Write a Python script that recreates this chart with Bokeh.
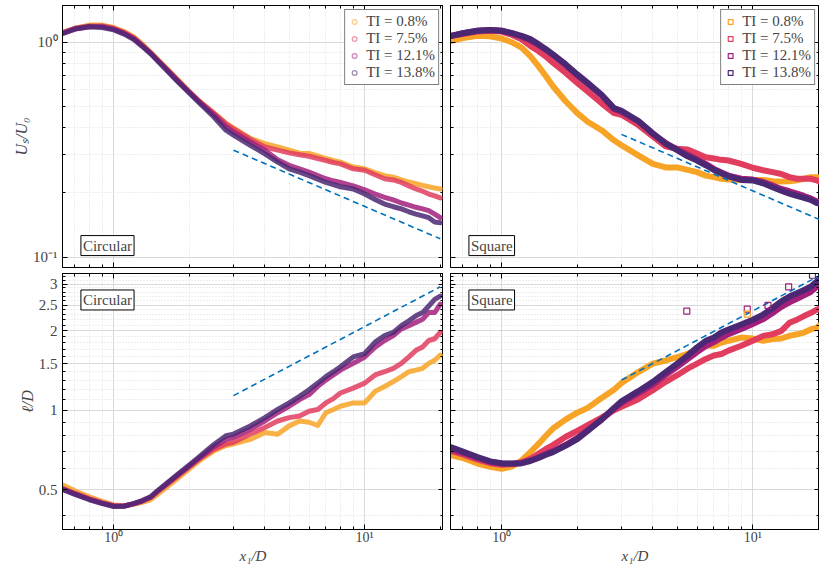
from bokeh.plotting import figure
from bokeh.layouts import gridplot
from bokeh.models import (FixedTicker, CustomJSTickFormatter, LogAxis, Label,
                          Legend, LegendItem, Range1d)
from bokeh.embed import file_html
from bokeh.resources import INLINE

# ---------------- data ----------------
x1_D = [0.63, 0.7, 0.8, 0.9, 1.0, 1.1, 1.2, 1.3, 1.4, 1.5, 1.6, 1.8, 2.0, 2.2, 2.5,
        2.8, 3.0, 3.5, 4.0, 4.5, 5.0, 5.5, 6.0, 6.5, 7.0, 7.5, 8.0, 9.0, 10, 11, 12,
        13, 14, 15, 16, 17, 18, 19, 20]

ti_labels = ["TI = 0.8%", "TI = 7.5%", "TI = 12.1%", "TI = 13.8%"]

# Circular cylinder, U_s/U_0
circ_U_08 = [1.11, 1.16, 1.20, 1.20, 1.17, 1.12, 1.06, 0.98, 0.90, 0.83, 0.77, 0.67, 0.59,
             0.53, 0.47, 0.42, 0.40, 0.357, 0.338, 0.326, 0.315, 0.305, 0.304, 0.296, 0.288,
             0.282, 0.277, 0.263, 0.258, 0.248, 0.240, 0.236, 0.229, 0.224, 0.220, 0.216,
             0.213, 0.210, 0.208]
circ_U_75 = [1.11, 1.16, 1.19, 1.19, 1.16, 1.11, 1.05, 0.97, 0.895, 0.825, 0.765, 0.665,
             0.587, 0.53, 0.468, 0.418, 0.395, 0.354, 0.326, 0.315, 0.306, 0.300, 0.295,
             0.288, 0.282, 0.276, 0.272, 0.258, 0.254, 0.242, 0.232, 0.229, 0.223, 0.215,
             0.208, 0.203, 0.197, 0.193, 0.189]
circ_U_121 = [1.10, 1.15, 1.18, 1.18, 1.15, 1.10, 1.04, 0.96, 0.89, 0.82, 0.76, 0.66, 0.585,
              0.525, 0.462, 0.405, 0.383, 0.344, 0.315, 0.284, 0.268, 0.258, 0.249, 0.240,
              0.232, 0.227, 0.223, 0.215, 0.206, 0.197, 0.190, 0.185, 0.179, 0.175, 0.171,
              0.168, 0.165, 0.159, 0.153]
circ_U_138 = [1.10, 1.15, 1.18, 1.17, 1.14, 1.09, 1.03, 0.955, 0.885, 0.815, 0.755, 0.655,
              0.58, 0.52, 0.45, 0.39, 0.370, 0.332, 0.303, 0.277, 0.258, 0.249, 0.240, 0.231,
              0.223, 0.218, 0.213, 0.208, 0.197, 0.186, 0.177, 0.172, 0.168, 0.163, 0.159,
              0.156, 0.153, 0.146, 0.145]

# Square cylinder, U_s/U_0
sq_U_08 = [1.014, 1.044, 1.07, 1.064, 1.04, 0.997, 0.944, 0.862, 0.774, 0.695, 0.624, 0.53,
           0.468, 0.427, 0.39, 0.35, 0.332, 0.298, 0.272, 0.262, 0.262, 0.255, 0.249, 0.240,
           0.236, 0.232, 0.230, 0.229, 0.229, 0.229, 0.226, 0.225, 0.226, 0.228, 0.232,
           0.236, 0.236, 0.236, 0.235]
sq_U_75 = [1.07, 1.09, 1.12, 1.13, 1.12, 1.08, 1.03, 0.96, 0.91, 0.857, 0.803, 0.72, 0.647,
           0.59, 0.52, 0.468, 0.46, 0.412, 0.365, 0.328, 0.320, 0.317, 0.304, 0.292, 0.288,
           0.284, 0.282, 0.272, 0.261, 0.254, 0.249, 0.244, 0.236, 0.232, 0.232, 0.232,
           0.228, 0.221, 0.219]
sq_U_121 = [1.07, 1.10, 1.13, 1.14, 1.13, 1.10, 1.06, 1.02, 0.97, 0.92, 0.87, 0.78, 0.70,
            0.64, 0.565, 0.49, 0.475, 0.43, 0.375, 0.34, 0.318, 0.30, 0.285, 0.272, 0.258,
            0.248, 0.240, 0.232, 0.230, 0.224, 0.216, 0.208, 0.203, 0.198, 0.193, 0.188,
            0.182, 0.179, 0.178]
sq_U_138 = [1.07, 1.10, 1.13, 1.14, 1.13, 1.10, 1.07, 1.033, 0.979, 0.927, 0.878, 0.788,
            0.708, 0.647, 0.57, 0.494, 0.48, 0.43, 0.377, 0.338, 0.315, 0.295, 0.282, 0.268,
            0.255, 0.246, 0.238, 0.229, 0.228, 0.221, 0.212, 0.204, 0.198, 0.193, 0.189,
            0.185, 0.179, 0.177, 0.176]

# Circular cylinder, l/D
circ_L_08 = [0.52, 0.495, 0.47, 0.452, 0.438, 0.435, 0.44, 0.448, 0.458, 0.482, 0.505, 0.552,
             0.60, 0.645, 0.70, 0.735, 0.745, 0.775, 0.823, 0.81, 0.872, 0.91, 0.90, 0.875,
             0.978, 1.006, 1.035, 1.065, 1.065, 1.178, 1.229, 1.283, 1.34, 1.398, 1.418,
             1.44, 1.503, 1.545, 1.614]
circ_L_75 = [0.505, 0.485, 0.463, 0.447, 0.435, 0.434, 0.442, 0.452, 0.466, 0.492, 0.516,
             0.563, 0.61, 0.655, 0.71, 0.745, 0.756, 0.812, 0.86, 0.91, 0.937, 0.95, 0.99,
             1.006, 1.065, 1.106, 1.161, 1.212, 1.266, 1.359, 1.398, 1.44, 1.503, 1.59, 1.684,
             1.733, 1.835, 1.863, 1.97]
circ_L_121 = [0.50, 0.482, 0.46, 0.445, 0.434, 0.434, 0.443, 0.454, 0.468, 0.495, 0.52, 0.568,
              0.615, 0.66, 0.725, 0.775, 0.789, 0.847, 0.91, 0.978, 1.035, 1.096, 1.145, 1.23,
              1.30, 1.359, 1.418, 1.503, 1.59, 1.73, 1.835, 1.917, 2.03, 2.089, 2.149, 2.21,
              2.34, 2.34, 2.52]
circ_L_138 = [0.50, 0.48, 0.458, 0.443, 0.432, 0.433, 0.443, 0.455, 0.47, 0.497, 0.522, 0.572,
              0.62, 0.668, 0.74, 0.80, 0.812, 0.872, 0.937, 1.006, 1.065, 1.128, 1.195, 1.266,
              1.34, 1.398, 1.46, 1.59, 1.638, 1.81, 1.917, 1.97, 2.089, 2.18, 2.275, 2.34,
              2.48, 2.625, 2.70]

# Square cylinder, l/D
sq_L_08 = [0.674, 0.659, 0.628, 0.61, 0.60, 0.613, 0.645, 0.694, 0.745, 0.80, 0.852, 0.923,
           0.978, 1.02, 1.112, 1.195, 1.266, 1.394, 1.50, 1.542, 1.586, 1.632, 1.70, 1.753,
           1.753, 1.804, 1.83, 1.883, 1.867, 1.83, 1.86, 1.867, 1.91, 1.937, 1.966, 2.02,
           2.05, 2.14, 2.18]
sq_L_75 = [0.70, 0.68, 0.65, 0.63, 0.622, 0.625, 0.635, 0.655, 0.684, 0.713, 0.738, 0.793,
           0.835, 0.877, 0.937, 1.0, 1.03, 1.10, 1.19, 1.28, 1.356, 1.435, 1.50, 1.563, 1.61,
           1.632, 1.68, 1.753, 1.83, 1.91, 1.937, 1.995, 2.14, 2.2, 2.27, 2.33, 2.40, 2.436,
           2.48]
sq_L_121 = [0.71, 0.69, 0.66, 0.637, 0.628, 0.627, 0.63, 0.645, 0.662, 0.682, 0.70, 0.74,
            0.785, 0.84, 0.92, 1.01, 1.065, 1.16, 1.25, 1.36, 1.46, 1.56, 1.66, 1.75, 1.81,
            1.88, 1.94, 2.03, 2.12, 2.21, 2.33, 2.46, 2.56, 2.64, 2.72, 2.80, 2.93, 3.05, 3.14]
sq_L_138 = [0.724, 0.697, 0.664, 0.64, 0.63, 0.628, 0.63, 0.642, 0.659, 0.678, 0.694, 0.734,
            0.777, 0.835, 0.923, 1.02, 1.08, 1.18, 1.28, 1.394, 1.50, 1.61, 1.728, 1.83, 1.883,
            1.966, 2.02, 2.11, 2.2, 2.30, 2.436, 2.58, 2.69, 2.77, 2.85, 2.93, 3.07, 3.20, 3.28]

# isolated square-cylinder l/D points
sq_L_out_121_x = [5.46, 9.51, 11.5, 13.9]
sq_L_out_121_y = [2.37, 2.41, 2.49, 2.93]
sq_L_out_08_x = [9.51]
sq_L_out_08_y = [2.31]
sq_L_out_138_x = [17.3]
sq_L_out_138_y = [3.24]

# power-law guide lines (slope -1/2 and +1/2)
fit_x = [3.0, 20.0]
circ_U_fit = [0.315, 0.122]
sq_U_fit = [0.373, 0.144]
circ_L_fit = [1.135, 2.93]
sq_L_fit = [1.30, 3.36]

x_major = [1, 10]
x_minor = [0.7, 0.8, 0.9, 2, 3, 4, 5, 6, 7, 8, 9, 20]
U_major = [0.1, 1]
U_minor = [0.2, 0.3, 0.4, 0.5, 0.6, 0.7, 0.8, 0.9]
L_major = [0.5, 1, 1.5, 2, 2.5, 3]
L_minor = [0.4, 0.6, 0.7, 0.8, 0.9, 1.1, 1.2, 1.3, 1.4, 1.6, 1.7, 1.8, 1.9, 2.1, 2.2,
           2.3, 2.4, 2.6, 2.7, 2.8, 2.9, 3.1, 3.2]

# ---------------- styling ----------------
COLORS = ["#F7A325", "#E13D5F", "#A2207C", "#4B2873"]
BLUE = "#0072BD"
FONT = "Liberation Serif"

pow_fmt = CustomJSTickFormatter(code="""
const m = {"0.1": "10\u207b\u00b9", "1": "10\u2070", "10": "10\u00b9"};
const k = String(tick);
return (k in m) ? m[k] : "";
""")
num_fmt = CustomJSTickFormatter(code="return String(Math.round(tick*10)/10);")


def style_axis(ax, show_labels, vertical=False):
    ax.axis_line_color = "black"
    ax.major_tick_in = 5
    ax.major_tick_out = 0
    ax.minor_tick_in = 3
    ax.minor_tick_out = 0
    ax.major_tick_line_color = "black"
    ax.minor_tick_line_color = "black"
    ax.major_label_text_font = FONT
    ax.axis_label_text_font = FONT
    ax.axis_label_text_font_size = "15px"
    ax.axis_label_text_font_style = "italic"
    ax.axis_label_standoff = 0
    if show_labels:
        ax.major_label_text_font_size = "14px" if not vertical else "15px"
        ax.major_label_standoff = 0 if not vertical else 5
    else:
        ax.major_label_text_font_size = "0px"
        ax.major_label_text_color = None
        ax.major_label_standoff = 0


def make_fig(x_end, y_rng, y_major, y_minor, y_fmt, show_x, show_y, x_label, y_label,
             w, h, borders):
    p = figure(x_axis_type="log", y_axis_type="log",
               x_range=Range1d(0.625, x_end), y_range=Range1d(*y_rng),
               width=w, height=h,
               output_backend="svg", toolbar_location=None,
               min_border_left=borders[0], min_border_right=borders[1],
               min_border_top=borders[2], min_border_bottom=borders[3])
    p.outline_line_color = "black"
    p.outline_line_width = 1
    xt = FixedTicker(ticks=x_major, minor_ticks=x_minor)
    yt = FixedTicker(ticks=y_major, minor_ticks=y_minor)
    p.xaxis.ticker = xt
    p.yaxis.ticker = yt
    p.xaxis.formatter = pow_fmt
    p.yaxis.formatter = y_fmt
    style_axis(p.xaxis[0], show_x)
    style_axis(p.yaxis[0], show_y, vertical=True)
    p.yaxis.axis_label_text_font_size = "16px"
    if x_label:
        p.xaxis.axis_label = x_label
    if y_label:
        p.yaxis.axis_label = y_label
    top = LogAxis(ticker=xt, formatter=pow_fmt)
    right = LogAxis(ticker=yt, formatter=y_fmt)
    style_axis(top, False)
    style_axis(right, False)
    p.add_layout(top, "above")
    p.add_layout(right, "right")
    for g in (p.xgrid[0], p.ygrid[0]):
        g.grid_line_color = "#d9d9d9"
        g.grid_line_width = 1
        g.minor_grid_line_color = "#dcdcdc"
        g.minor_grid_line_dash = "1 2"
        g.minor_grid_line_width = 1
    return p


def add_series(p, series, marker, line_w, alpha, legend_alpha):
    items = []
    for ys, c, lab in zip(series, COLORS, ti_labels):
        p.line(x1_D, ys, line_color=c, line_width=line_w, line_alpha=alpha,
               line_join="round", line_cap="round")
        # marker renderer used for the legend swatch (zero size on the plot)
        r = p.scatter(x1_D, ys, marker=marker, size=0, fill_color=None,
                      line_color=c, line_alpha=legend_alpha, line_width=1.2)
        items.append(LegendItem(label=lab, renderers=[r]))
    return items


def add_legend(p, items):
    leg = Legend(items=items, location="top_right",
                 label_text_font=FONT, label_text_font_size="15px",
                 border_line_color="black", border_line_width=1,
                 background_fill_color="white", background_fill_alpha=1,
                 padding=3, spacing=0, margin=4, label_height=17,
                 glyph_height=15, glyph_width=12, label_standoff=6)
    p.add_layout(leg)


def add_tag(p, text, x, y, baseline):
    p.add_layout(Label(x=x, y=y, text=text, text_font=FONT, text_font_size="15px",
                       text_baseline=baseline, border_line_color="black",
                       border_line_width=1, background_fill_color="white",
                       background_fill_alpha=1, padding=2))


U_rng = (0.0898, 1.48)
L_rng = (0.3535, 3.29)

# widths: left column 62 + 381 frame, right column 7 + 369 frame
tl = make_fig(20.6, U_rng, U_major, U_minor, pow_fmt, False, True, None,
              "U\u209b/U\u2080", 443, 270, (62, 0, 5, 3))
tr = make_fig(18.45, U_rng, U_major, U_minor, pow_fmt, False, False, None, None,
              376, 270, (7, 0, 5, 3))
bl = make_fig(20.6, L_rng, L_major, L_minor, num_fmt, True, True, "x\u2081/D",
              "\u2113/D", 443, 296, (62, 0, 3, 30))
br = make_fig(18.45, L_rng, L_major, L_minor, num_fmt, True, False, "x\u2081/D", None,
              376, 296, (7, 0, 3, 30))

items_c = add_series(tl, [circ_U_08, circ_U_75, circ_U_121, circ_U_138], "circle", 5, 0.85, 0.55)
items_s = add_series(tr, [sq_U_08, sq_U_75, sq_U_121, sq_U_138], "square", 6, 1.0, 1.0)
add_series(bl, [circ_L_08, circ_L_75, circ_L_121, circ_L_138], "circle", 5, 0.85, 0.55)
add_series(br, [sq_L_08, sq_L_75, sq_L_121, sq_L_138], "square", 6, 1.0, 1.0)

for p, fy in ((tl, circ_U_fit), (tr, sq_U_fit), (bl, circ_L_fit), (br, sq_L_fit)):
    p.line(fit_x, fy, line_color=BLUE, line_width=1.6, line_dash="6 4")

for xs, ys, c in ((sq_L_out_121_x, sq_L_out_121_y, COLORS[2]),
                  (sq_L_out_08_x, sq_L_out_08_y, COLORS[0]),
                  (sq_L_out_138_x, sq_L_out_138_y, COLORS[3])):
    br.scatter(xs, ys, marker="square", size=6, fill_color=None, line_color=c,
               line_width=1.2)

add_legend(tl, items_c)
add_legend(tr, items_s)

add_tag(tl, "Circular", 0.74, 0.102, "bottom")
add_tag(tr, "Square", 0.74, 0.102, "bottom")
add_tag(bl, "Circular", 0.74, 2.85, "top")
add_tag(br, "Square", 0.74, 2.85, "top")

grid = gridplot([[tl, tr], [bl, br]], toolbar_location=None)

open("out.html", "w").write(file_html(grid, INLINE))
